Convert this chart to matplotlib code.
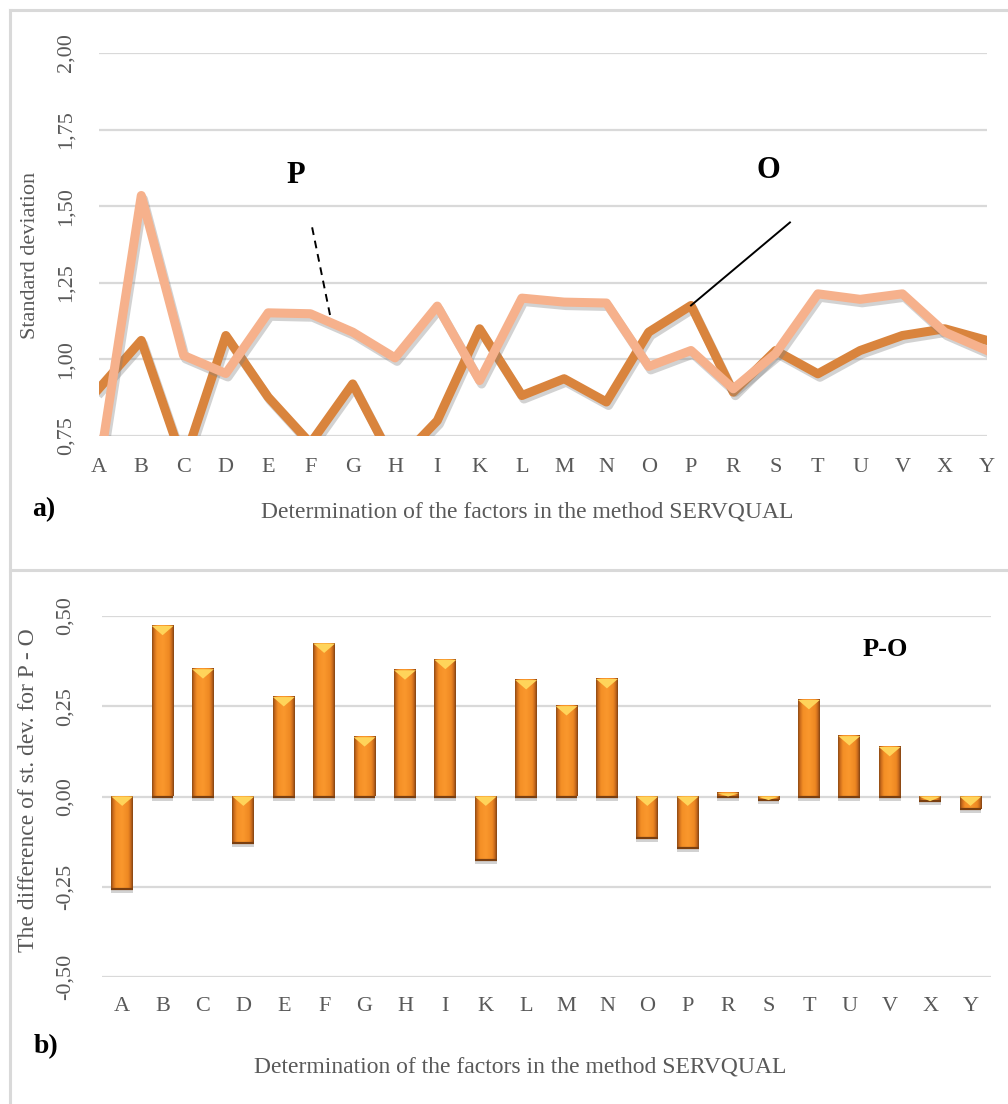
import numpy as np
import matplotlib
matplotlib.use("Agg")
import matplotlib.pyplot as plt
import matplotlib.patheffects as pe
from matplotlib.colors import LinearSegmentedColormap
from matplotlib.patches import Polygon
from matplotlib.lines import Line2D

plt.rcParams['font.family'] = ['Liberation Serif', 'DejaVu Serif']

# SERVQUAL factors
factors = ["A", "B", "C", "D", "E", "F", "G", "H", "I", "K", "L",
           "M", "N", "O", "P", "R", "S", "T", "U", "V", "X", "Y"]

# Standard deviation of perception (P) and expectation (O) scores
std_p = [0.645, 1.535, 1.013, 0.954, 1.152, 1.149, 1.089, 1.005, 1.174, 0.931, 1.200,
         1.187, 1.184, 0.977, 1.029, 0.904, 1.019, 1.214, 1.196, 1.214, 1.089, 1.029]
std_o = [0.905, 1.062, 0.661, 1.078, 0.877, 0.726, 0.920, 0.656, 0.800, 1.100, 0.882,
         0.937, 0.861, 1.089, 1.176, 0.893, 1.029, 0.953, 1.029, 1.078, 1.100, 1.062]

# Difference of standard deviations P - O
diff_po = [-0.256, 0.472, 0.352, -0.129, 0.275, 0.423, 0.164, 0.349, 0.378, -0.176, 0.322,
           0.250, 0.325, -0.115, -0.143, 0.009, -0.010, 0.267, 0.167, 0.137, -0.013, -0.035]

top_yticks = [0.75, 1.00, 1.25, 1.50, 1.75, 2.00]
bot_yticks = [-0.50, -0.25, 0.00, 0.25, 0.50]

W, H = 1008, 1104
fig = plt.figure(figsize=(W / 100, H / 100), dpi=100)
fig.patch.set_facecolor("white")

GRID = "#D9D9D9"
TICK = "#595959"
DARK = "#D9843D"
LIGHT = "#F6B18C"
XLABEL = "Determination of the factors in the method SERVQUAL"


def fx(px):
    return px / W


def fy(py):
    return 1 - py / H


def comma(v):
    return f"{v:.2f}".replace(".", ",")


# Panel frames
for seg in [((9.5, 9.5), (10, H)), ((9.5, W), (10, 10)), ((9.5, W), (569.5, 569.5))]:
    fig.add_artist(Line2D([fx(seg[0][0]), fx(seg[0][1])], [fy(seg[1][0]), fy(seg[1][1])],
                          color=GRID, lw=2.2))

# ---------- a) line chart ----------
ax1 = fig.add_axes([fx(99), fy(436), fx(987) - fx(99), fy(53) - fy(436)])
x = np.arange(len(factors))
shadow = [pe.SimpleLineShadow(offset=(1.5, -2.5), shadow_color="#7f7f7f", alpha=0.35),
          pe.Normal()]
ax1.plot(x, std_o, color=DARK, lw=6.5, solid_joinstyle="round", zorder=3, path_effects=shadow)
ax1.plot(x, std_p, color=LIGHT, lw=6.5, solid_joinstyle="round", zorder=4, path_effects=shadow)
ax1.set_xlim(0, len(factors) - 1)
ax1.set_ylim(0.75, 2.00)
ax1.set_yticks(top_yticks)
ax1.set_yticklabels([comma(v) for v in top_yticks], rotation=90, va="center")
ax1.set_xticks(x)
ax1.set_xticklabels(factors)
ax1.grid(axis="y", color=GRID, lw=1.6)
ax1.set_axisbelow(True)
for s in ax1.spines.values():
    s.set_visible(False)
ax1.tick_params(axis="both", length=0, labelsize=16, colors=TICK)
ax1.tick_params(axis="x", pad=16)
ax1.tick_params(axis="y", pad=17)
fig.text(fx(31), fy(255), "Standard deviation", fontsize=16, color=TICK,
         rotation=90, ha="center", va="center")
fig.text(fx(527), fy(512), XLABEL, fontsize=17, color=TICK, ha="center", va="center")

# Series callouts
ax1.text(4.66, 1.60, "P", fontsize=22, fontweight="bold", ha="center", va="center")
ax1.plot([5.04, 5.49], [1.431, 1.127], color="black", lw=1.4, ls=(0, (4, 3)), zorder=5)
ax1.text(15.84, 1.617, "O", fontsize=22, fontweight="bold", ha="center", va="center")
ax1.plot([16.34, 14.0], [1.447, std_o[14]], color="black", lw=1.4, zorder=5)

fig.text(fx(44), fy(510), "a)", fontsize=20, fontweight="bold", ha="center", va="center")

# ---------- b) bar chart ----------
ax2 = fig.add_axes([fx(102), fy(977.3), fx(990.7) - fx(102), fy(615.7) - fy(977.3)])
bar_w = 0.54
bars = ax2.bar(x, diff_po, width=bar_w, color="#E9852A", zorder=2,
               path_effects=[pe.SimplePatchShadow(offset=(0, -3), shadow_rgbFace="#808080",
                                                  alpha=0.35), pe.Normal()])

# Bevelled orange fill: dark edges, bright centre
bevel = LinearSegmentedColormap.from_list(
    "bevel", [(0.0, "#8A4A14"), (0.08, "#C8681A"), (0.22, "#F48F26"), (0.5, "#FA982D"),
              (0.8, "#EE8822"), (0.92, "#C0641B"), (1.0, "#7E4212")])
grad = np.linspace(0, 1, 64).reshape(1, -1)
tri_h = 0.026
for xi, v in zip(x, diff_po):
    x0, x1 = xi - bar_w / 2, xi + bar_w / 2
    y0, y1 = min(0, v), max(0, v)
    ax2.imshow(grad, extent=[x0, x1, y0, y1], aspect="auto", cmap=bevel,
               interpolation="bicubic", zorder=3)
    # darker band along the bar bottom
    ax2.plot([x0, x1], [y0, y0], color="#7A3F10", lw=1.6, zorder=4, solid_capstyle="butt")
    th = min(tri_h, y1 - y0)
    if th > 0.004:
        ax2.add_patch(Polygon([[x0, y1], [x1, y1], [xi, y1 - th]], closed=True,
                              facecolor="#FFD45A", edgecolor="none", zorder=4))

ax2.set_xlim(-0.5, len(factors) - 0.5)
ax2.set_ylim(-0.5, 0.5)
ax2.set_yticks(bot_yticks)
ax2.set_yticklabels([comma(v) for v in bot_yticks], rotation=90, va="center")
ax2.set_xticks(x)
ax2.set_xticklabels(factors)
ax2.grid(axis="y", color=GRID, lw=1.6)
ax2.set_axisbelow(True)
for s in ax2.spines.values():
    s.set_visible(False)
ax2.tick_params(axis="both", length=0, labelsize=16, colors=TICK)
ax2.tick_params(axis="x", pad=14)
ax2.tick_params(axis="y", pad=20)
fig.text(fx(29), fy(790), "The difference of st. dev. for P - O", fontsize=17, color=TICK,
         rotation=90, ha="center", va="center")
fig.text(fx(520), fy(1067), XLABEL, fontsize=17, color=TICK, ha="center", va="center")

ax2.text(18.9, 0.406, "P-O", fontsize=19, fontweight="bold", ha="center", va="center")
fig.text(fx(46), fy(1047), "b)", fontsize=20, fontweight="bold", ha="center", va="center")

fig.savefig("out.png", dpi=100, facecolor="white")
